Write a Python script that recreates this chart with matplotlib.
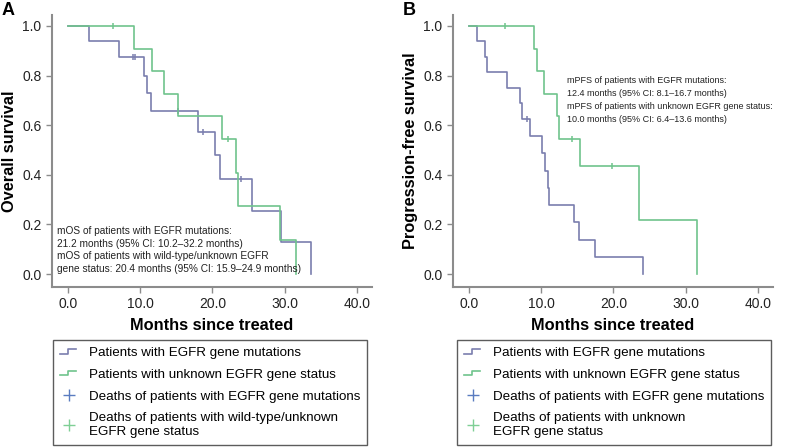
import numpy as np
import matplotlib.pyplot as plt
from matplotlib.lines import Line2D
from matplotlib.legend_handler import HandlerBase

plt.rcParams['font.family'] = ['Liberation Sans', 'DejaVu Sans']

# Panel A - overall survival
os_mut_t = [2.9, 7.1, 10.6, 10.9, 11.5, 18.0, 20.3, 21.0, 25.5, 29.5, 33.7]
os_mut_s = [0.9375, 0.875, 0.80, 0.73, 0.656, 0.574, 0.478, 0.383, 0.255, 0.128, 0.0]
os_mut_cens = [9.0, 9.3, 15.3, 18.7, 23.9]
os_unk_t = [9.2, 11.6, 13.3, 15.2, 21.3, 23.3, 23.5, 29.4, 31.6]
os_unk_s = [0.909, 0.818, 0.727, 0.636, 0.545, 0.409, 0.273, 0.136, 0.0]
os_unk_cens = [6.2, 22.1]

# Panel B - progression-free survival
pfs_mut_t = [1.15, 2.2, 2.5, 5.3, 7.05, 7.4, 8.5, 10.1, 10.6, 11.0, 11.1, 14.5, 15.3, 17.5, 24.1]
pfs_mut_s = [0.9375, 0.875, 0.8125, 0.75, 0.6875, 0.625, 0.556, 0.486, 0.417, 0.347, 0.278,
             0.208, 0.139, 0.069, 0.0]
pfs_mut_cens = [8.1]
pfs_unk_t = [9.0, 9.4, 10.4, 12.2, 12.5, 15.4, 23.5, 31.6]
pfs_unk_s = [0.909, 0.818, 0.727, 0.636, 0.545, 0.436, 0.218, 0.0]
pfs_unk_cens = [5.0, 14.3, 19.8]

xticks = [0, 10, 20, 30, 40]
yticks = [0.0, 0.2, 0.4, 0.6, 0.8, 1.0]

blue = '#7a7eae'
green = '#6fc48c'
blue_mk = '#5a7cc0'
green_mk = '#7fcf95'
grey = '#8c8c8c'


def surv_at(t, times, surv):
    s = 1.0
    for ti, si in zip(times, surv):
        if ti <= t:
            s = si
    return s


def km(ax, times, surv, cens, color):
    x = [0] + list(times)
    y = [1.0] + list(surv)
    ax.step(x, y, where='post', color=color, lw=1.2)
    cy = [surv_at(c, times, surv) for c in cens]
    ax.plot(cens, cy, ls='none', marker='|', ms=5, mew=1.1, color=color)


class StepHandler(HandlerBase):
    def create_artists(self, legend, orig, xd, yd, w, h, fontsize, trans):
        xs = np.array([0, 0.45, 0.45, 0.9]) * w - xd
        ys = np.array([0.25, 0.25, 0.7, 0.7]) * h - yd
        ln = Line2D(xs, ys, color=orig.get_color(), lw=1.2, transform=trans)
        return [ln]


fig = plt.figure(figsize=(7.94, 4.47), dpi=100)

panels = [
    (52, 'A', 'Overall survival', os_mut_t, os_mut_s, os_mut_cens, os_unk_t, os_unk_s, os_unk_cens),
    (453, 'B', 'Progression-free survival', pfs_mut_t, pfs_mut_s, pfs_mut_cens,
     pfs_unk_t, pfs_unk_s, pfs_unk_cens),
]
axes = []
for left, letter, ylab, mt, ms, mc, ut, us, uc in panels:
    ax = fig.add_axes([left / 794, 160 / 447, 320 / 794, 272 / 447])
    km(ax, mt, ms, mc, blue)
    km(ax, ut, us, uc, green)
    ax.set_xlim(-2.2, 42.1)
    ax.set_ylim(-0.052, 1.044)
    ax.set_xticks(xticks)
    ax.set_xticklabels([f'{v:.1f}' for v in xticks])
    ax.set_yticks(yticks)
    ax.set_yticklabels([f'{v:.1f}' for v in yticks])
    for s in ['top', 'right']:
        ax.spines[s].set_visible(False)
    for s in ['left', 'bottom']:
        ax.spines[s].set_color(grey)
        ax.spines[s].set_linewidth(1.5)
    ax.tick_params(colors=grey, labelcolor='#222222', labelsize=10, length=4, width=1)
    ax.set_xlabel('Months since treated', fontsize=11.8, fontweight='bold', labelpad=5)
    ax.set_ylabel(ylab, fontsize=11.8, fontweight='bold', labelpad=4)
    fig.text((left - 50) / 794, 1 - 2 / 447, letter, fontsize=13, fontweight='bold', va='top')
    axes.append(ax)

axes[0].text(0.015, 0.225,
             'mOS of patients with EGFR mutations:\n21.2 months (95% CI: 10.2\u201332.2 months)\n'
             'mOS of patients with wild-type/unknown EGFR\ngene status: 20.4 months (95% CI: 15.9\u201324.9 months)',
             transform=axes[0].transAxes, fontsize=7.3, va='top', linespacing=1.35, color='#222222')
axes[1].text(0.355, 0.775,
             'mPFS of patients with EGFR mutations:\n12.4 months (95% CI: 8.1\u201316.7 months)\n'
             'mPFS of patients with unknown EGFR gene status:\n10.0 months (95% CI: 6.4\u201313.6 months)',
             transform=axes[1].transAxes, fontsize=6.5, va='top', linespacing=1.55, color='#222222')

legend_labels = [
    ['Patients with EGFR gene mutations', 'Patients with unknown EGFR gene status',
     'Deaths of patients with EGFR gene mutations',
     'Deaths of patients with wild-type/unknown\nEGFR gene status'],
    ['Patients with EGFR gene mutations', 'Patients with unknown EGFR gene status',
     'Deaths of patients with EGFR gene mutations',
     'Deaths of patients with unknown\nEGFR gene status'],
]
for lx, labs in zip([53, 457], legend_labels):
    h1 = Line2D([], [], color=blue)
    h2 = Line2D([], [], color=green)
    h3 = Line2D([0], [0], color=blue_mk, marker='+', ms=9, ls='none')
    h4 = Line2D([0], [0], color=green_mk, marker='+', ms=9, ls='none')
    leg = fig.legend([h1, h2, h3, h4], labs, loc='upper left',
                     bbox_to_anchor=(lx / 794, 1 - 340 / 447), fontsize=9.6,
                     fancybox=False, edgecolor='#333333', handlelength=1.4,
                     labelspacing=0.71, borderpad=0.5, handletextpad=0.8, borderaxespad=0,
                     handler_map={h1: StepHandler(), h2: StepHandler()})
    leg.get_frame().set_linewidth(1.0)

fig.savefig('out.png', dpi=100)
